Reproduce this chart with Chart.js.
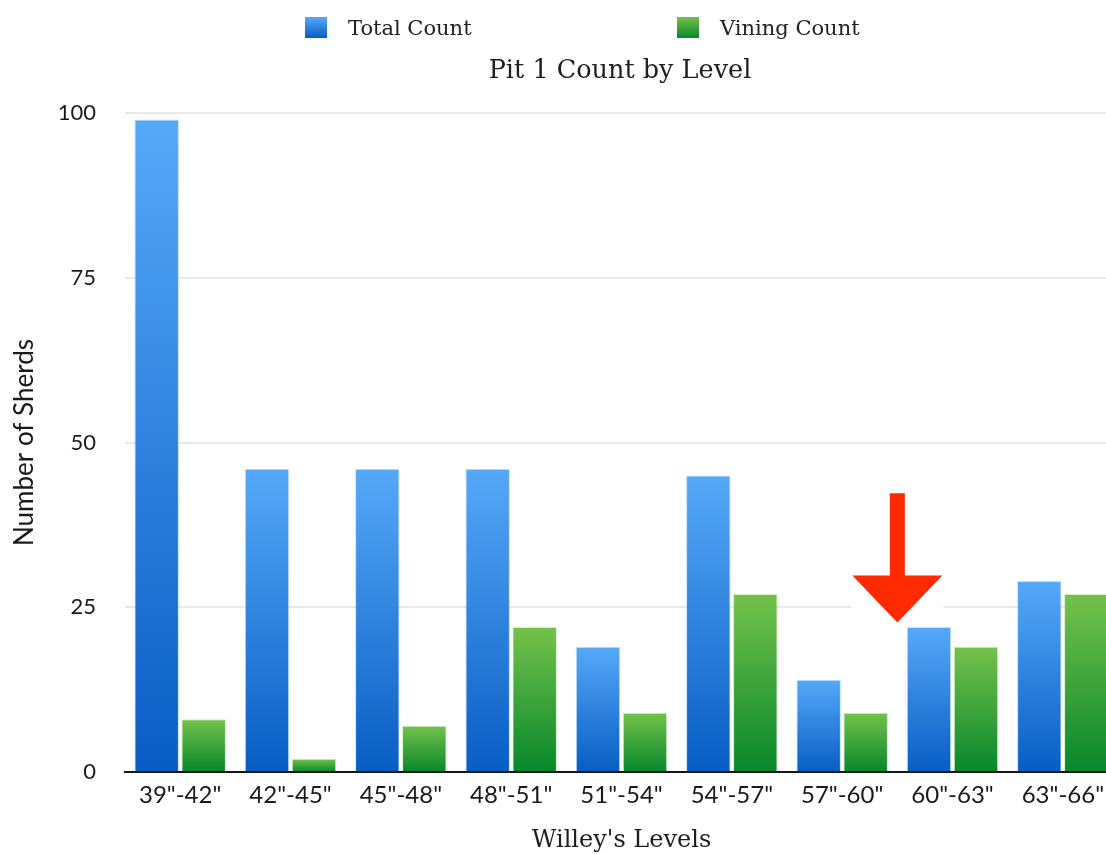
<!DOCTYPE html>
<html>
<head>
<meta charset="utf-8">
<title>Pit 1 Count by Level</title>
<script src="https://cdn.jsdelivr.net/npm/chart.js@4.4.1/dist/chart.umd.min.js"></script>
<style>
  html, body { margin: 0; padding: 0; background: #fff; overflow: hidden; }
  #wrap { position: relative; width: 1106px; height: 854px; overflow: hidden; background: #fff; }
  #box { position: absolute; left: 0; top: 0; width: 1240px; height: 858px; }
  .leg { position: absolute; top: 17px; height: 21px; display: flex; align-items: center;
         font-family: "DejaVu Serif", serif; font-size: 21px; color: #222; white-space: nowrap; }
  .sw { width: 22px; height: 21px; margin-right: 21px; box-sizing: border-box; }
</style>
</head>
<body>
<div id="wrap">
  <div id="box"><canvas id="chart"></canvas></div>
  <div id="legend"></div>
</div>
<script>
// Levels excavated (inches) and sherd counts per level
const levels = ['39"-42"', '42"-45"', '45"-48"', '48"-51"', '51"-54"', '54"-57"', '57"-60"', '60"-63"', '63"-66"'];
const totalCount = [99, 46, 46, 46, 19, 45, 14, 22, 29];
const viningCount = [8, 2, 7, 22, 9, 27, 9, 19, 27];
const yTicks = [0, 25, 50, 75, 100];

// Arrow pointing at the 60"-63" level, in axis units
const arrowMark = { at: 6.5, from: 42.3, neck: 29.8, to: 22.7 };

const seriesColors = {
  total: { top: '#56a9f8', bottom: '#085dc4' },
  vining: { top: '#74c24b', bottom: '#07872b' }
};
const legendLeft = [305, 677];

// Vertical gradient running from the top of each bar down to its base
function barGradient(c) {
  return (context) => {
    const chart = context.chart;
    if (!chart.chartArea || context.type !== 'data') return c.bottom;
    const ys = chart.scales.y;
    const yTop = ys.getPixelForValue(context.parsed.y);
    const yBase = ys.getPixelForValue(0);
    if (!isFinite(yTop) || Math.abs(yBase - yTop) < 1) return c.bottom;
    const g = chart.ctx.createLinearGradient(0, yTop, 0, yBase);
    g.addColorStop(0, c.top);
    g.addColorStop(1, c.bottom);
    return g;
  };
}

const arrowPlugin = {
  id: 'levelArrow',
  afterDatasetsDraw(chart, args, opts) {
    const { ctx, scales: { x, y } } = chart;
    const cx = x.getPixelForValue(arrowMark.at);
    const yTop = y.getPixelForValue(arrowMark.from);
    const yNeck = y.getPixelForValue(arrowMark.neck);
    const yTip = y.getPixelForValue(arrowMark.to);
    const half = opts.headHalfWidth, shaft = opts.shaftHalfWidth;
    ctx.save();
    ctx.fillStyle = '#ffffff';
    ctx.fillRect(cx - half - 1, yNeck - 1, 2 * half + 2, yTip - yNeck + 2);
    ctx.fillStyle = opts.color;
    ctx.beginPath();
    ctx.moveTo(cx - shaft, yTop);
    ctx.lineTo(cx + shaft, yTop);
    ctx.lineTo(cx + shaft, yNeck);
    ctx.lineTo(cx + half, yNeck);
    ctx.lineTo(cx, yTip);
    ctx.lineTo(cx - half, yNeck);
    ctx.lineTo(cx - shaft, yNeck);
    ctx.closePath();
    ctx.fill();
    ctx.restore();
  }
};

const datasets = [
  {
    label: 'Total Count',
    data: totalCount,
    backgroundColor: barGradient(seriesColors.total),
    borderColor: 'rgba(150,200,255,0.55)',
    borderWidth: 1,
    swatch: seriesColors.total
  },
  {
    label: 'Vining Count',
    data: viningCount,
    backgroundColor: barGradient(seriesColors.vining),
    borderColor: 'rgba(170,225,150,0.55)',
    borderWidth: 1,
    swatch: seriesColors.vining
  }
];

new Chart(document.getElementById('chart'), {
  type: 'bar',
  data: { labels: levels, datasets },
  plugins: [arrowPlugin],
  options: {
    responsive: true,
    maintainAspectRatio: false,
    animation: false,
    layout: { padding: 0 },
    categoryPercentage: 0.852,
    barPercentage: 0.947,
    plugins: {
      legend: { display: false },
      tooltip: { enabled: false },
      title: {
        display: true,
        text: 'Pit 1 Count by Level',
        color: '#1e1e1e',
        font: { family: 'DejaVu Serif', size: 25.5, weight: 'normal', lineHeight: 1.2 },
        padding: { top: 55.7, bottom: 26.7 }
      },
      levelArrow: { color: '#ff2a00', headHalfWidth: 45, shaftHalfWidth: 7.5 }
    },
    scales: {
      x: {
        grid: { display: false, drawTicks: false },
        border: { display: true, color: '#161616', width: 2 },
        ticks: { color: '#1a1a1a', font: { family: 'Lato', size: 24 }, padding: 9, maxRotation: 0, autoSkip: false },
        title: {
          display: true,
          text: "Willey's Levels",
          color: '#1e1e1e',
          font: { family: 'DejaVu Serif', size: 24, lineHeight: 1.2 },
          padding: { top: 0, bottom: 2.6 }
        },
        afterFit: (s) => { s.height = 86; }
      },
      y: {
        min: 0,
        max: 100,
        afterBuildTicks: (s) => { s.ticks = yTicks.map(v => ({ value: v })); },
        grid: { color: '#e9e9e9', lineWidth: 2, drawTicks: false },
        border: { display: false },
        ticks: { color: '#1a1a1a', font: { family: 'Lato', size: 22 }, padding: 29 },
        title: {
          display: true,
          text: 'Number of Sherds',
          color: '#1a1a1a',
          font: { family: 'Lato', size: 26, lineHeight: 1.2 },
          padding: { top: 9, bottom: 0 }
        },
        afterFit: (s) => { s.width = 125; }
      },
      gutter: {
        type: 'linear',
        position: 'right',
        min: 0,
        max: 100,
        grid: { display: false, drawTicks: false },
        border: { display: false },
        ticks: { display: false },
        afterFit: (s) => { s.width = 122; }
      }
    }
  }
});

// Legend row above the title
const legendEl = document.getElementById('legend');
datasets.forEach((ds, i) => {
  const item = document.createElement('div');
  item.className = 'leg';
  item.style.left = legendLeft[i] + 'px';
  const sw = document.createElement('span');
  sw.className = 'sw';
  sw.style.background = `linear-gradient(${ds.swatch.top}, ${ds.swatch.bottom})`;
  const txt = document.createElement('span');
  txt.textContent = ds.label;
  item.appendChild(sw);
  item.appendChild(txt);
  legendEl.appendChild(item);
});
</script>
</body>
</html>
